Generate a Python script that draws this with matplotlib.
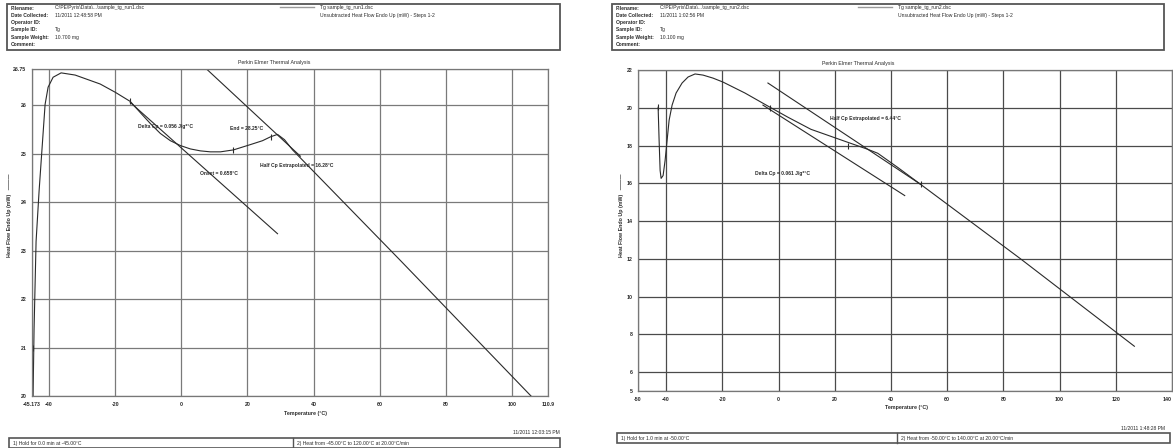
import matplotlib
matplotlib.use("Agg")
import matplotlib.pyplot as plt
from matplotlib.patches import Rectangle
from matplotlib.lines import Line2D

W, H = 1173, 448
FONT = "Liberation Sans"
INK = "#2a2a2a"

# --- run 1 (left panel) ---
LEFT_TEMP = [-44.85, -44.55, -43.94, -43.03, -42.12, -41.21, -40.30, -38.79, -36.36,
             -32.12, -24.55, -20.0, -15.45, -12.42, -9.39, -6.36, -3.33, -0.30, 2.73,
             5.76, 8.79, 11.82, 15.76, 20.91, 24.55, 26.97, 29.09, 31.21, 33.64, 66.36,
             105.76]
LEFT_HEAT = [20.0, 21.375, 23.19, 24.23, 25.125, 26.02, 26.375, 26.58, 26.67,
             26.625, 26.44, 26.27, 26.08, 25.85, 25.625, 25.42, 25.27, 25.17, 25.10,
             25.06, 25.04, 25.04, 25.08, 25.19, 25.27, 25.35, 25.40, 25.29, 25.08, 22.79,
             20.0]
LEFT_BASE_T = [-15.45, 29.09]
LEFT_BASE_HF = [26.06, 23.35]
LEFT_STEP_T = [6.67, 36.0]
LEFT_STEP_HF = [26.81, 24.95]
LEFT_MARK_T = [-44.85, -15.45, 15.76, 26.97]
LEFT_MARK_HF = [21.0, 26.08, 25.08, 25.35]
LEFT_XTICKS = [-45.173, -40, -20, 0, 20, 40, 60, 80, 100, 110.9]
LEFT_XLABELS = ["-45.173", "-40", "-20", "0", "20", "40", "60", "80", "100", "110.9"]
LEFT_YTICKS = [20, 21, 22, 23, 24, 25, 26, 26.75]
LEFT_YLABELS = ["20", "21", "22", "23", "24", "25", "26", "26.75"]
LEFT_NOTES = [
    ("Delta Cp = 0.056 J/g*°C", -13.0, 25.56),
    ("End = 28.25°C", 14.85, 25.52),
    ("Onset = 0.658°C", 5.76, 24.60),
    ("Half Cp Extrapolated = 16.28°C", 23.94, 24.75),
]

# --- run 2 (right panel) ---
RIGHT_TEMP = [-42.84, -42.49, -42.13, -41.78, -41.07, -40.36, -39.64, -38.93, -37.87,
              -36.45, -34.32, -32.18, -29.70, -26.86, -23.30, -19.75, -11.94, -3.77,
              3.34, 11.51, 24.65, 31.76, 35.31, 42.42, 50.59, 86.11, 126.61]
RIGHT_HEAT = [20.03, 18.28, 16.68, 16.26, 16.41, 17.21, 18.28, 19.34, 20.14,
              20.78, 21.31, 21.63, 21.79, 21.73, 21.57, 21.36, 20.78, 20.09,
              19.50, 18.86, 18.17, 17.80, 17.59, 16.84, 15.94, 12.0, 7.37]
RIGHT_UPPER_T = [-3.77, 50.59]
RIGHT_UPPER_HF = [21.31, 15.94]
RIGHT_LOWER_T = [-5.54, 44.9]
RIGHT_LOWER_HF = [20.14, 15.35]
RIGHT_MARK_T = [-42.84, -3.06, 24.65, 50.59]
RIGHT_MARK_HF = [20.03, 19.98, 17.96, 15.94]
RIGHT_XTICKS = [-50, -40, -20, 0, 20, 40, 60, 80, 100, 120, 140]
RIGHT_YTICKS = [5, 6, 8, 10, 12, 14, 16, 18, 20, 22]
RIGHT_NOTES = [
    ("Half Cp Extrapolated = 6.44°C", 18.26, 19.45),
    ("Delta Cp = 0.061 J/g*°C", -8.38, 16.52),
]

HEADER_KEYS = ["Filename:", "Date Collected:", "Operator ID:", "Sample ID:",
               "Sample Weight:", "Comment:"]
LEFT_HEADER_VALUES = ["C:\\PE\\Pyris\\Data\\...\\sample_tg_run1.dsc", "11/2011 12:48:58 PM",
                      "", "Tg", "10.700 mg", ""]
RIGHT_HEADER_VALUES = ["C:\\PE\\Pyris\\Data\\...\\sample_tg_run2.dsc", "11/2011 1:02:56 PM",
                       "", "Tg", "10.100 mg", ""]


def fx(px):
    return px / W


def fy(py):
    return 1 - py / H


def ftext(fig, px, py, s, size=3.6, **kw):
    kw.setdefault("va", "center")
    fig.text(fx(px), fy(py), s, fontsize=size, family=FONT, color=INK, **kw)


def draw_header(fig, x0, x1, values, run_name, legend_x):
    fig.add_artist(Rectangle((fx(x0), fy(50)), fx(x1) - fx(x0), fy(4) - fy(50),
                             transform=fig.transFigure, fill=False,
                             edgecolor="#555555", lw=1.3))
    for i, (k, v) in enumerate(zip(HEADER_KEYS, values)):
        py = 8 + i * 7.3
        ftext(fig, x0 + 4, py, k, weight="bold")
        ftext(fig, x0 + 48, py, v)
    fig.add_artist(Line2D([fx(legend_x), fx(legend_x + 34)], [fy(7), fy(7)],
                          transform=fig.transFigure, color="#999999", lw=1.0))
    ftext(fig, legend_x + 40, 7, run_name)
    ftext(fig, legend_x + 40, 15, "Unsubtracted Heat Flow Endo Up (mW) - Steps 1-2")


def draw_footer(fig, x0, x1, y0, split, step1, step2):
    fig.add_artist(Rectangle((fx(x0), fy(y0 + 10)), fx(x1) - fx(x0), fy(y0) - fy(y0 + 10),
                             transform=fig.transFigure, fill=False,
                             edgecolor="#555555", lw=1.2))
    fig.add_artist(Line2D([fx(split), fx(split)], [fy(y0), fy(y0 + 10)],
                          transform=fig.transFigure, color="#555555", lw=1.0))
    ftext(fig, x0 + 4, y0 + 5, step1)
    ftext(fig, split + 4, y0 + 5, step2)


def draw_panel(ax, temp, heat, lines, marks, notes, xticks, xlabels, yticks, ylabels,
               xlim, ylim, grid_color):
    ax.set_xlim(*xlim)
    ax.set_ylim(*ylim)
    ax.set_xticks(xticks)
    ax.set_xticklabels(xlabels)
    ax.set_yticks(yticks)
    ax.set_yticklabels(ylabels)
    ax.tick_params(length=0, labelsize=3.8, pad=4, colors=INK)
    for lab in ax.get_xticklabels() + ax.get_yticklabels():
        lab.set_family(FONT)
        lab.set_weight("bold")
    ax.grid(True, color=grid_color, lw=0.9)
    for sp in ax.spines.values():
        sp.set_color("#777777")
        sp.set_linewidth(0.9)

    ax.plot(temp, heat, color=INK, lw=0.8)
    for t, hf in lines:
        ax.plot(t, hf, color=INK, lw=0.8)
    ax.plot(marks[0], marks[1], ls="none", marker="|", ms=5, mew=0.8, color=INK)
    for s, x, y in notes:
        ax.text(x, y, s, fontsize=3.6, family=FONT, color=INK, va="center",
                weight="bold")


def main():
    fig = plt.figure(figsize=(W / 100, H / 100), dpi=100)

    # left panel
    axl = fig.add_axes([fx(32), fy(396), fx(548) - fx(32), fy(69) - fy(396)])
    draw_panel(axl, LEFT_TEMP, LEFT_HEAT,
               [(LEFT_BASE_T, LEFT_BASE_HF), (LEFT_STEP_T, LEFT_STEP_HF)],
               (LEFT_MARK_T, LEFT_MARK_HF), LEFT_NOTES,
               LEFT_XTICKS, LEFT_XLABELS, LEFT_YTICKS, LEFT_YLABELS,
               (-45.173, 110.9), (20.0, 26.75), "#7a7a7a")

    # right panel
    axr = fig.add_axes([fx(638), fy(391), fx(1172) - fx(638), fy(70) - fy(391)])
    draw_panel(axr, RIGHT_TEMP, RIGHT_HEAT,
               [(RIGHT_UPPER_T, RIGHT_UPPER_HF), (RIGHT_LOWER_T, RIGHT_LOWER_HF)],
               (RIGHT_MARK_T, RIGHT_MARK_HF), RIGHT_NOTES,
               RIGHT_XTICKS, [str(v) for v in RIGHT_XTICKS],
               RIGHT_YTICKS, [str(v) for v in RIGHT_YTICKS],
               (-50, 140), (5, 22), "#4a4a4a")
    # last temperature label sits on the figure edge
    axr.get_xticklabels()[-1].set_horizontalalignment("right")

    # titles, axis labels, time stamps
    ftext(fig, 274, 62, "Perkin Elmer Thermal Analysis", size=3.8, ha="center")
    ftext(fig, 858, 63, "Perkin Elmer Thermal Analysis", size=3.8, ha="center")
    ftext(fig, 306, 413, "Temperature (°C)", size=3.8, ha="center", weight="bold")
    ftext(fig, 907, 407, "Temperature (°C)", size=3.8, ha="center", weight="bold")
    fig.text(fx(10), fy(215), "Heat Flow Endo Up (mW)   ———", rotation=90,
             fontsize=3.8, family=FONT, color=INK, ha="center", va="center",
             weight="bold")
    fig.text(fx(621), fy(215), "Heat Flow Endo Up (mW)   ———", rotation=90,
             fontsize=3.8, family=FONT, color=INK, ha="center", va="center",
             weight="bold")
    ftext(fig, 560, 432, "11/2011 12:03:15 PM", ha="right")
    ftext(fig, 1165, 428, "11/2011 1:48:28 PM", ha="right")

    # method summary boxes
    draw_header(fig, 7, 560, LEFT_HEADER_VALUES, "Tg sample_tg_run1.dsc", 280)
    draw_header(fig, 612, 1164, RIGHT_HEADER_VALUES, "Tg sample_tg_run2.dsc", 858)
    draw_footer(fig, 9, 560, 438, 293,
                "1) Hold for 0.0 min at -45.00°C",
                "2) Heat from -45.00°C to 120.00°C at 20.00°C/min")
    draw_footer(fig, 617, 1170, 433, 897,
                "1) Hold for 1.0 min at -50.00°C",
                "2) Heat from -50.00°C to 140.00°C at 20.00°C/min")

    fig.savefig("out.png", dpi=100)


if __name__ == "__main__":
    main()
